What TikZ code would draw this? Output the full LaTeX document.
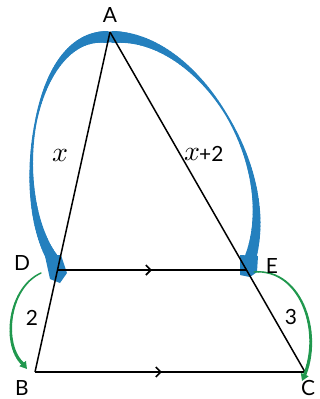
\documentclass[tikz,border=0pt]{standalone}
\usepackage{fontspec}
\setmainfont{Lato}
\usetikzlibrary{decorations.markings,arrows.meta}
\definecolor{arcblue}{RGB}{36,128,190}
\definecolor{arcgreen}{RGB}{32,152,78}
\tikzset{
  seg/.style={line width=1.5bp,black},
  midarr/.style={postaction={decorate},decoration={markings,
    mark=at position #1 with {\arrow{Straight Barb[length=5bp,width=10bp,line width=1.6bp]}}}},
  lbl/.style={font=\fontsize{21}{22}\selectfont,inner sep=0pt},
  mlbl/.style={scale=2.8,inner sep=0pt},
  bandpiece/.style={arcblue,line cap=round},
  greenpiece/.style={arcgreen,line cap=round},
}
\begin{document}
\begin{tikzpicture}[x=1bp,y=-1bp]
\useasboundingbox (0,0) rectangle (320,399);
\coordinate (A) at (110,32);
\coordinate (B) at (35,372);
\coordinate (C) at (305,372);
\coordinate (D) at (57,270);
\coordinate (E) at (247,270);
% ---- blue arcs (tapered) ----
\path (107,37) .. controls (30,33) and (10,200) .. (55,262)
  \foreach \i [evaluate=\i as \p using \i/80] in {0,...,80} {coordinate[pos=\p] (lb\i)};
\path (113,37) .. controls (200,35) and (282,170) .. (249,262)
  \foreach \i [evaluate=\i as \p using \i/80] in {0,...,80} {coordinate[pos=\p] (rb\i)};
\foreach \i [count=\j from 1] in {0,...,79} {
  \pgfmathsetmacro\w{2+10*(abs(1-2*(\i+0.5)/80))^1.5}
  \draw[bandpiece,line width=\w bp] (lb\i) -- (lb\j);
  \draw[bandpiece,line width=\w bp] (rb\i) -- (rb\j);
}
\fill[arcblue] (45,256) -- (61,255) -- (67,273) -- (60,283) -- (50,279) -- cycle;
\fill[arcblue] (240,255) -- (258,256) -- (257,272) -- (250,277) -- (240,275) -- cycle;
% ---- triangle and parallels ----
\draw[seg] (A) -- (B);
\draw[seg] (A) -- (C);
\draw[seg,midarr=0.5] (D) -- (E);
\draw[seg,midarr=0.47] (B) -- (C);
% ---- green arcs ----
\path (41,273) .. controls (8,288) and (2,345) .. (23,364)
  \foreach \i [evaluate=\i as \p using \i/30] in {0,...,30} {coordinate[pos=\p] (lg\i)};
\path (254,272) .. controls (300,268) and (322,330) .. (305,374)
  \foreach \i [evaluate=\i as \p using \i/30] in {0,...,30} {coordinate[pos=\p] (rg\i)};
\foreach \i [count=\j from 1] in {0,...,29} {
  \pgfmathsetmacro\w{1.4+1.8*\i/29}
  \draw[greenpiece,line width=\w bp] (lg\i) -- (lg\j);
  \draw[greenpiece,line width=\w bp] (rg\i) -- (rg\j);
}
\coordinate (gB) at (27,369);
\coordinate (gC) at (302,381);
\draw[arcgreen,line width=3bp,-{Triangle[length=7bp,width=8bp]}] (lg30) -- (gB);
\draw[arcgreen,line width=3bp,-{Triangle[length=7bp,width=8bp]}] (rg30) -- (gC);
% ---- labels ----
\node[lbl] (lA) at (110,15) {A};
\node[lbl] (lD) at (22,263) {D};
\node[lbl] (lE) at (272,266) {E};
\node[lbl] (lB) at (22,388) {B};
\node[lbl] (lC) at (308,388) {C};
\node[mlbl] (lx) at (60,155) {$x$};
\node[mlbl] (lxx) at (192,154) {$x$};
\node[lbl,anchor=west] (lx2) at (199,154) {+2};
\node[lbl] (l2) at (32,318) {2};
\node[lbl] (l3) at (291,317) {3};
\end{tikzpicture}
\end{document}
